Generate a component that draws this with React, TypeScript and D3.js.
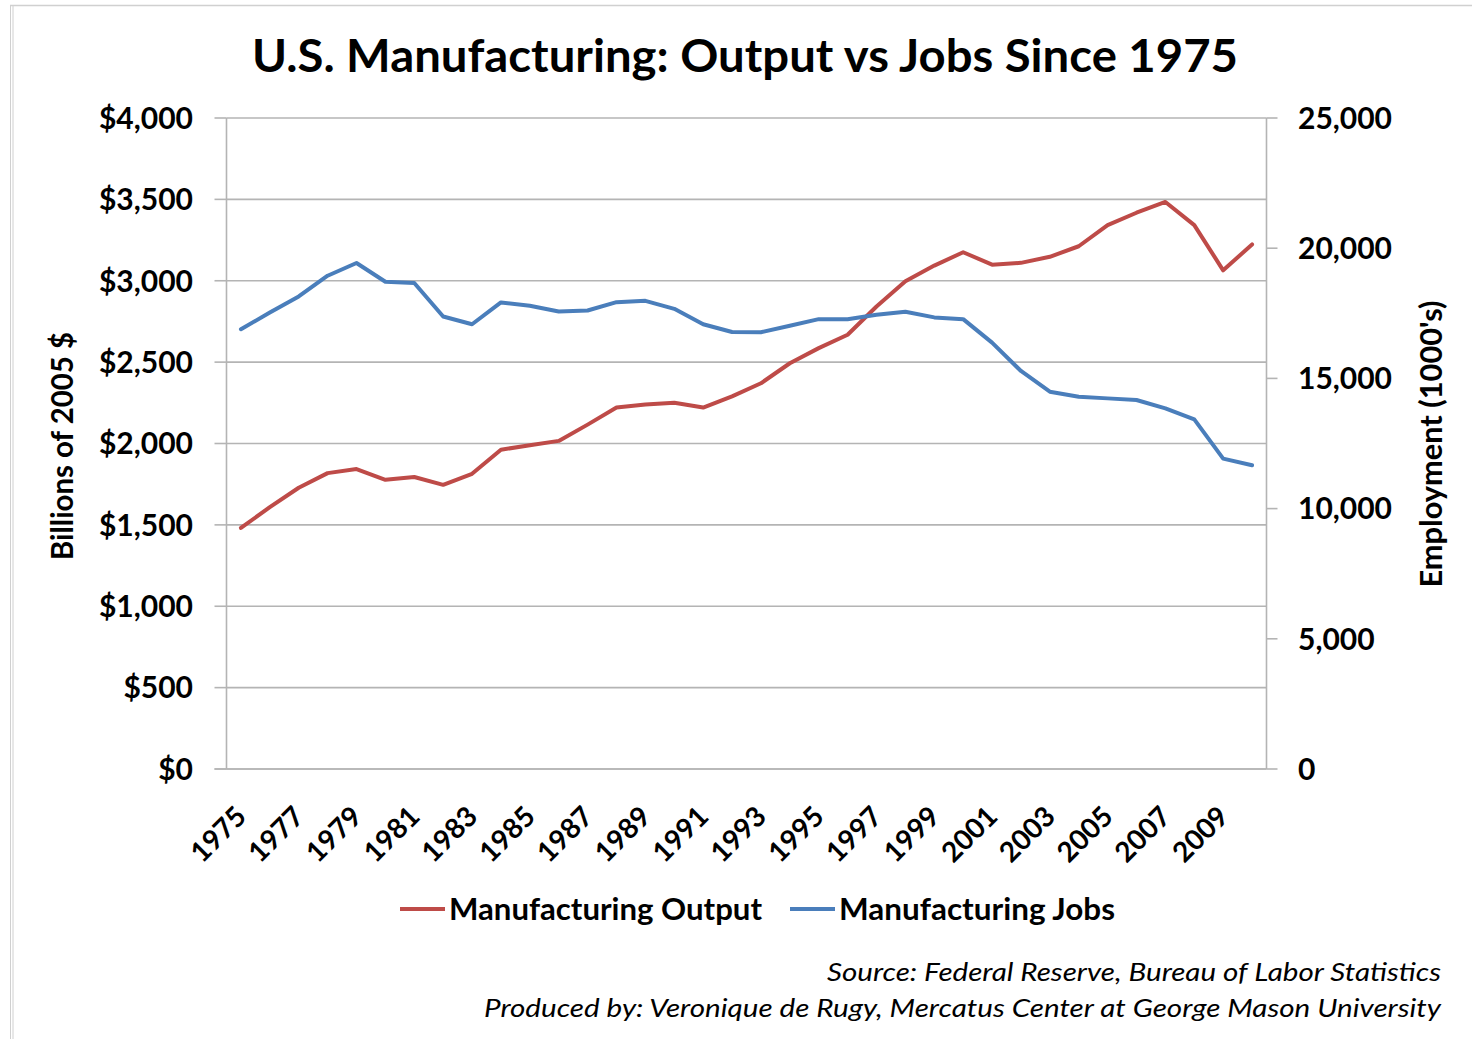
import React from 'react';
import * as d3 from 'd3';

const years = ['1975','1976','1977','1978','1979','1980','1981','1982','1983','1984','1985','1986','1987','1988','1989','1990','1991','1992','1993','1994','1995','1996','1997','1998','1999','2000','2001','2002','2003','2004','2005','2006','2007','2008','2009','2010'];
const outputBillions = [1481,1609,1728,1818,1843,1777,1794,1746,1814,1962,1989,2016,2116,2221,2240,2250,2221,2290,2370,2493,2586,2668,2842,2997,3093,3175,3099,3110,3147,3212,3342,3418,3484,3342,3064,3223];
const jobsThousands = [16887,17530,18146,18943,19431,18713,18662,17375,17080,17916,17787,17568,17607,17928,17979,17671,17080,16780,16775,17020,17275,17275,17443,17560,17343,17275,16375,15285,14490,14297,14233,14169,13849,13426,11921,11664];
const leftTicks = [0,500,1000,1500,2000,2500,3000,3500,4000];
const rightTicks = [0,5000,10000,15000,20000,25000];
const labeledYears = years.filter((_, i) => i % 2 === 0);
const seriesNames = ['Manufacturing Output', 'Manufacturing Jobs'];
const titleText = 'U.S. Manufacturing: Output vs Jobs Since 1975';
const leftTitle = 'Billions of 2005 $';
const rightTitle = "Employment (1000's)";
const sourceLines = ['Source: Federal Reserve, Bureau of Labor Statistics', 'Produced by: Veronique de Rugy, Mercatus Center at George Mason University'];

const RED = '#BE4B48';
const BLUE = '#4A7EBB';
const GRID = '#b4b4b4';
const FONT = "Lato, 'Open Sans', sans-serif";

export default function App() {
  const W = 1472, H = 1039;
  const left = 226.5, right = 1266.5, top = 118, bottom = 769;
  const x = d3.scaleBand<string>().domain(years).range([left, right]).padding(0);
  const cx = (y: string) => (x(y) as number) + x.bandwidth() / 2;
  const yL = d3.scaleLinear().domain([0, 4000]).range([bottom, top]);
  const yR = d3.scaleLinear().domain([0, 25000]).range([bottom, top]);
  const fmtL = (v: number) => '$' + d3.format(',')(v);
  const fmtR = d3.format(',');

  const outLine = d3.line<number>().x((_, i) => cx(years[i])).y(d => yL(d))(outputBillions) || '';
  const jobLine = d3.line<number>().x((_, i) => cx(years[i])).y(d => yR(d))(jobsThousands) || '';

  return (
    <svg width={W} height={H} style={{ position: 'absolute', left: 0, top: 0, background: '#fff' }} fontFamily={FONT}>
      <rect x={0} y={0} width={W} height={H} fill="#fff" />
      {/* chart border */}
      <line x1={10} x2={W} y1={5.5} y2={5.5} stroke="#d0d0d0" strokeWidth={1.5} />
      <line x1={10.5} x2={10.5} y1={5} y2={H} stroke="#d0d0d0" strokeWidth={1} />
      <line x1={13} x2={13} y1={5} y2={H} stroke="#d0d0d0" strokeWidth={1} />

      <text x={745} y={72} textAnchor="middle" fontSize={46} fontWeight={700} textLength={986} lengthAdjust="spacingAndGlyphs">{titleText}</text>

      {/* gridlines */}
      {leftTicks.map(t => (
        <line key={'g' + t} x1={left} x2={right} y1={yL(t)} y2={yL(t)} stroke={GRID} strokeWidth={1.6} />
      ))}
      {/* left axis */}
      <line x1={left} x2={left} y1={top} y2={bottom} stroke={GRID} strokeWidth={1.6} />
      {leftTicks.map(t => (
        <g key={'l' + t}>
          <line x1={left - 12} x2={left} y1={yL(t)} y2={yL(t)} stroke={GRID} strokeWidth={1.6} />
          <text x={193} y={yL(t)} dy="0.36em" textAnchor="end" fontSize={30} fontWeight={700}>{fmtL(t)}</text>
        </g>
      ))}
      {/* right axis */}
      <line x1={right} x2={right} y1={top} y2={bottom} stroke={GRID} strokeWidth={1.6} />
      {rightTicks.map(t => (
        <g key={'r' + t}>
          <line x1={right} x2={right + 11} y1={yR(t)} y2={yR(t)} stroke={GRID} strokeWidth={1.6} />
          <text x={1298} y={yR(t)} dy="0.36em" textAnchor="start" fontSize={30} fontWeight={700}>{fmtR(t)}</text>
        </g>
      ))}
      {/* x axis */}
      <line x1={left - 12} x2={right} y1={bottom} y2={bottom} stroke={GRID} strokeWidth={1.6} />
      {labeledYears.map(yr => (
        <text key={yr} transform={`translate(${cx(yr)},${811}) rotate(-45)`} dy="0.36em" textAnchor="end" fontSize={28} fontWeight={700}>{yr}</text>
      ))}

      {/* axis titles */}
      <text transform={`translate(73,446) rotate(-90)`} textAnchor="middle" fontSize={30} fontWeight={700} textLength={228} lengthAdjust="spacingAndGlyphs">{leftTitle}</text>
      <text transform={`translate(1442,444) rotate(-90)`} textAnchor="middle" fontSize={30} fontWeight={700} textLength={287} lengthAdjust="spacingAndGlyphs">{rightTitle}</text>

      {/* series */}
      <path d={outLine} fill="none" stroke={RED} strokeWidth={4} strokeLinejoin="round" strokeLinecap="round" />
      <path d={jobLine} fill="none" stroke={BLUE} strokeWidth={4} strokeLinejoin="round" strokeLinecap="round" />

      {/* legend */}
      <line x1={400} x2={445} y1={909} y2={909} stroke={RED} strokeWidth={4} />
      <text x={449} y={920} fontSize={30} fontWeight={700} textLength={313} lengthAdjust="spacingAndGlyphs">{seriesNames[0]}</text>
      <line x1={790} x2={835} y1={909} y2={909} stroke={BLUE} strokeWidth={4} />
      <text x={839} y={920} fontSize={30} fontWeight={700} textLength={276} lengthAdjust="spacingAndGlyphs">{seriesNames[1]}</text>

      {/* source */}
      <text x={1441} y={981} textAnchor="end" fontSize={25} fontStyle="italic" textLength={614} lengthAdjust="spacingAndGlyphs">{sourceLines[0]}</text>
      <text x={1441} y={1017} textAnchor="end" fontSize={25} fontStyle="italic" textLength={957} lengthAdjust="spacingAndGlyphs">{sourceLines[1]}</text>
    </svg>
  );
}
